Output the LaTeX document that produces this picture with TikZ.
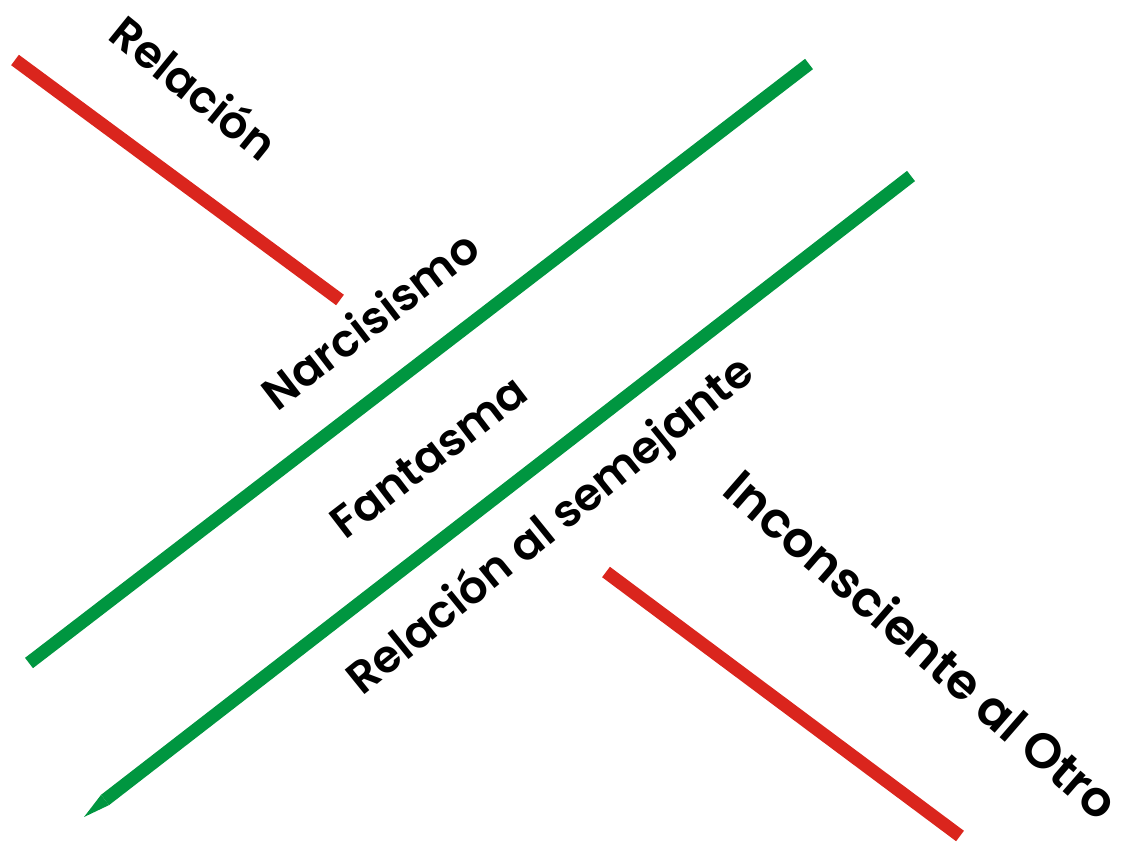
\documentclass[tikz,border=0pt]{standalone}
\usepackage{fontspec}
\newfontfamily\lblfont{Poppins SemiBold}
\usetikzlibrary{math, calc}

\definecolor{barred}{RGB}{218,37,29}
\definecolor{bargreen}{RGB}{0,150,64}

\begin{document}
\begin{tikzpicture}[x=0.01cm, y=-0.01cm, line width=3.7pt,
    redbar/.style={draw=barred, line cap=butt},
    greenbar/.style={draw=bargreen, line cap=butt},
    lbl/.style={inner sep=0pt, text height=9.5pt, text depth=0pt,
        font=\lblfont\fontsize{12.8pt}{16pt}\selectfont}]
    \tikzmath{
        \upangle=37.5;
        \downangle=-39;
    }
    \useasboundingbox (0, 0) rectangle (1125, 843);

    % red bars
    \draw [redbar] (15, 60) -- (340, 300);
    \draw [redbar] (606, 572) -- (960, 836);

    % green bars
    \draw [greenbar] (29, 663) -- (809, 64);
    \draw [greenbar] (911, 176) -- (105, 800);
    \fill [bargreen] ($ (105, 800) + (4, 5.1) $) -- ($ (105, 800) - (4, 5.1) $) -- (84, 817) -- cycle;

    % labels
    \node [lbl, rotate=\downangle] (relacion) at (194, 88) {Relación};
    \node [lbl, rotate=\upangle] (narcisismo) at (370, 320) {Narcisismo};
    \node [lbl, rotate=\upangle] (fantasma) at (428, 456) {Fantasma};
    \node [lbl, rotate=39] (semejante) at (549, 524) {Relación al semejante};
    \node [lbl, rotate=-41, font=\lblfont\fontsize{14pt}{17pt}\selectfont] (otro) at (921, 646) {Inconsciente al Otro};
\end{tikzpicture}
\end{document}
